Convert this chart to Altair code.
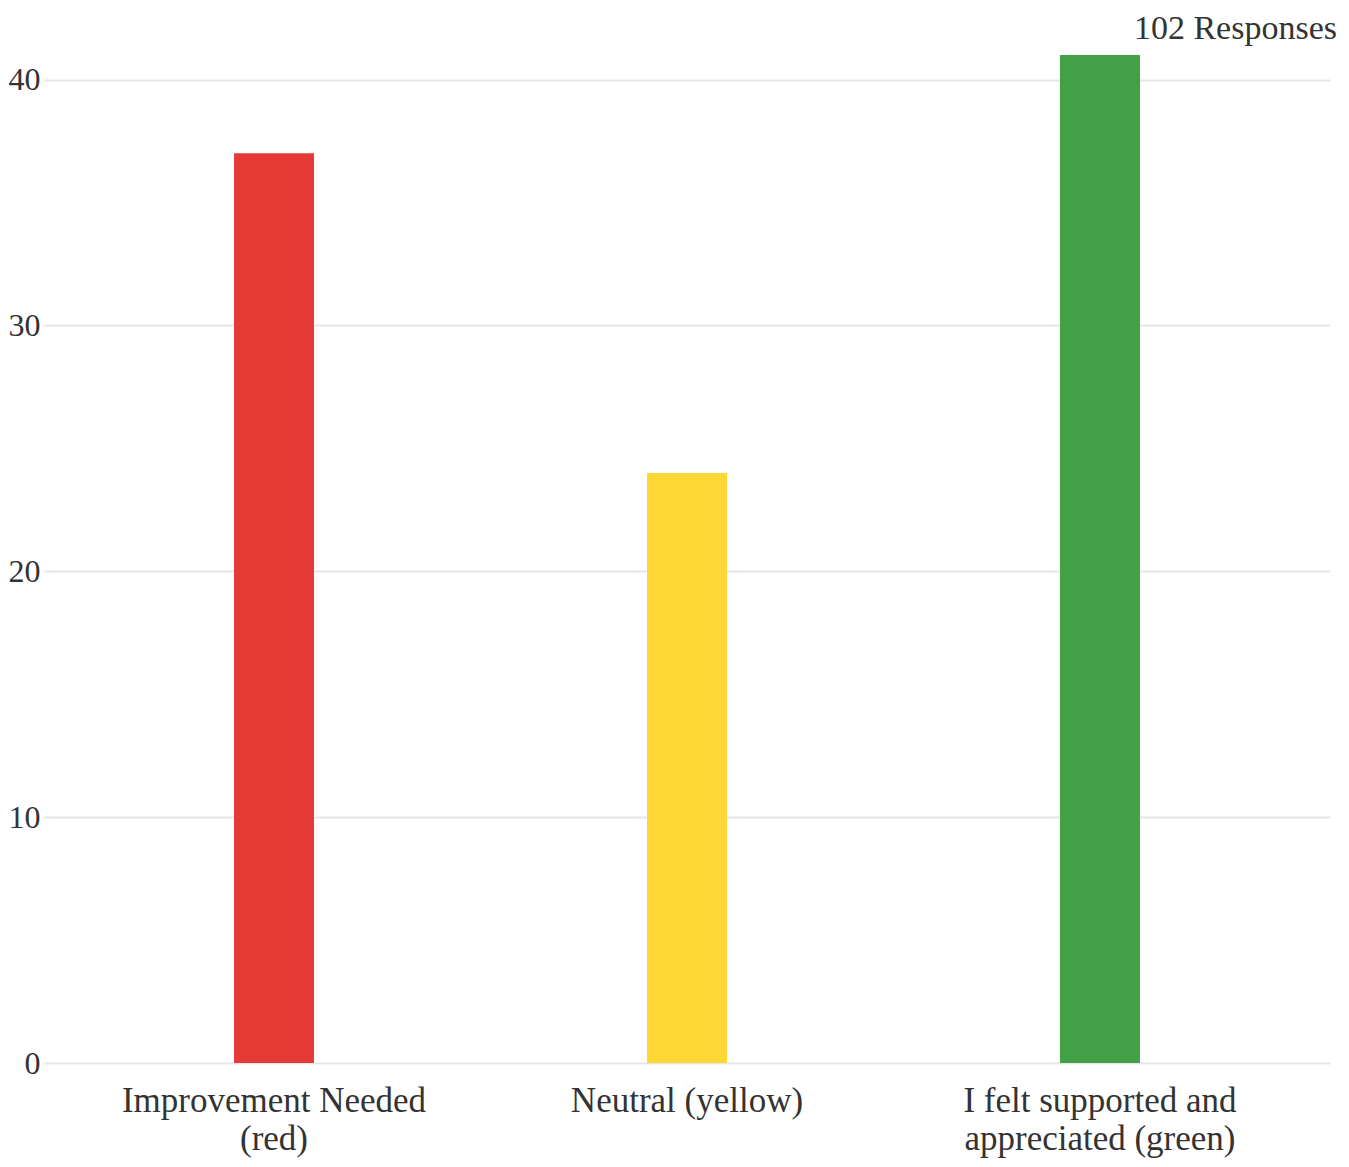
import altair as alt
import pandas as pd

categories = ["Improvement Needed\n(red)", "Neutral (yellow)", "I felt supported and\nappreciated (green)"]
counts = [37, 24, 41]
colors = ["#E53935", "#FDD835", "#43A047"]
y_ticks = [0, 10, 20, 30, 40]
title_text = "102 Responses"

df = pd.DataFrame({"category": categories, "count": counts, "color": colors})

FONT = "Liberation Serif"

chart = alt.Chart(df).mark_bar(size=80).encode(
    x=alt.X("category:N", sort=categories,
            scale=alt.Scale(paddingInner=0, paddingOuter=0.057),
            axis=alt.Axis(title=None, labelAngle=0, domain=False, ticks=False, grid=False,
                          labelExpr="split(datum.label, '\\n')",
                          labelFont=FONT, labelFontSize=35, labelColor="#333333",
                          labelPadding=20, labelLineHeight=38, labelBaseline="top",
                          labelLimit=0)),
    y=alt.Y("count:Q", scale=alt.Scale(domain=[0, 41], nice=False),
            axis=alt.Axis(title=None, values=y_ticks, domain=False, ticks=False,
                          gridColor="#e6e6e6", gridWidth=2,
                          labelFont=FONT, labelFontSize=32, labelColor="#333333",
                          labelPadding=4)),
    color=alt.Color("color:N", scale=None),
).properties(
    width=1286,
    height=1008,
    title=alt.TitleParams(title_text, anchor="end", font=FONT, fontSize=34, fontWeight="normal",
                          color="#333333", dx=7, offset=9),
    autosize=alt.AutoSizeParams(type="none"),
    padding={"left": 36, "top": 47, "right": 11, "bottom": 96},
).configure_view(stroke=None)

chart.save("out.html", embed_options={"renderer": "svg", "actions": False})
